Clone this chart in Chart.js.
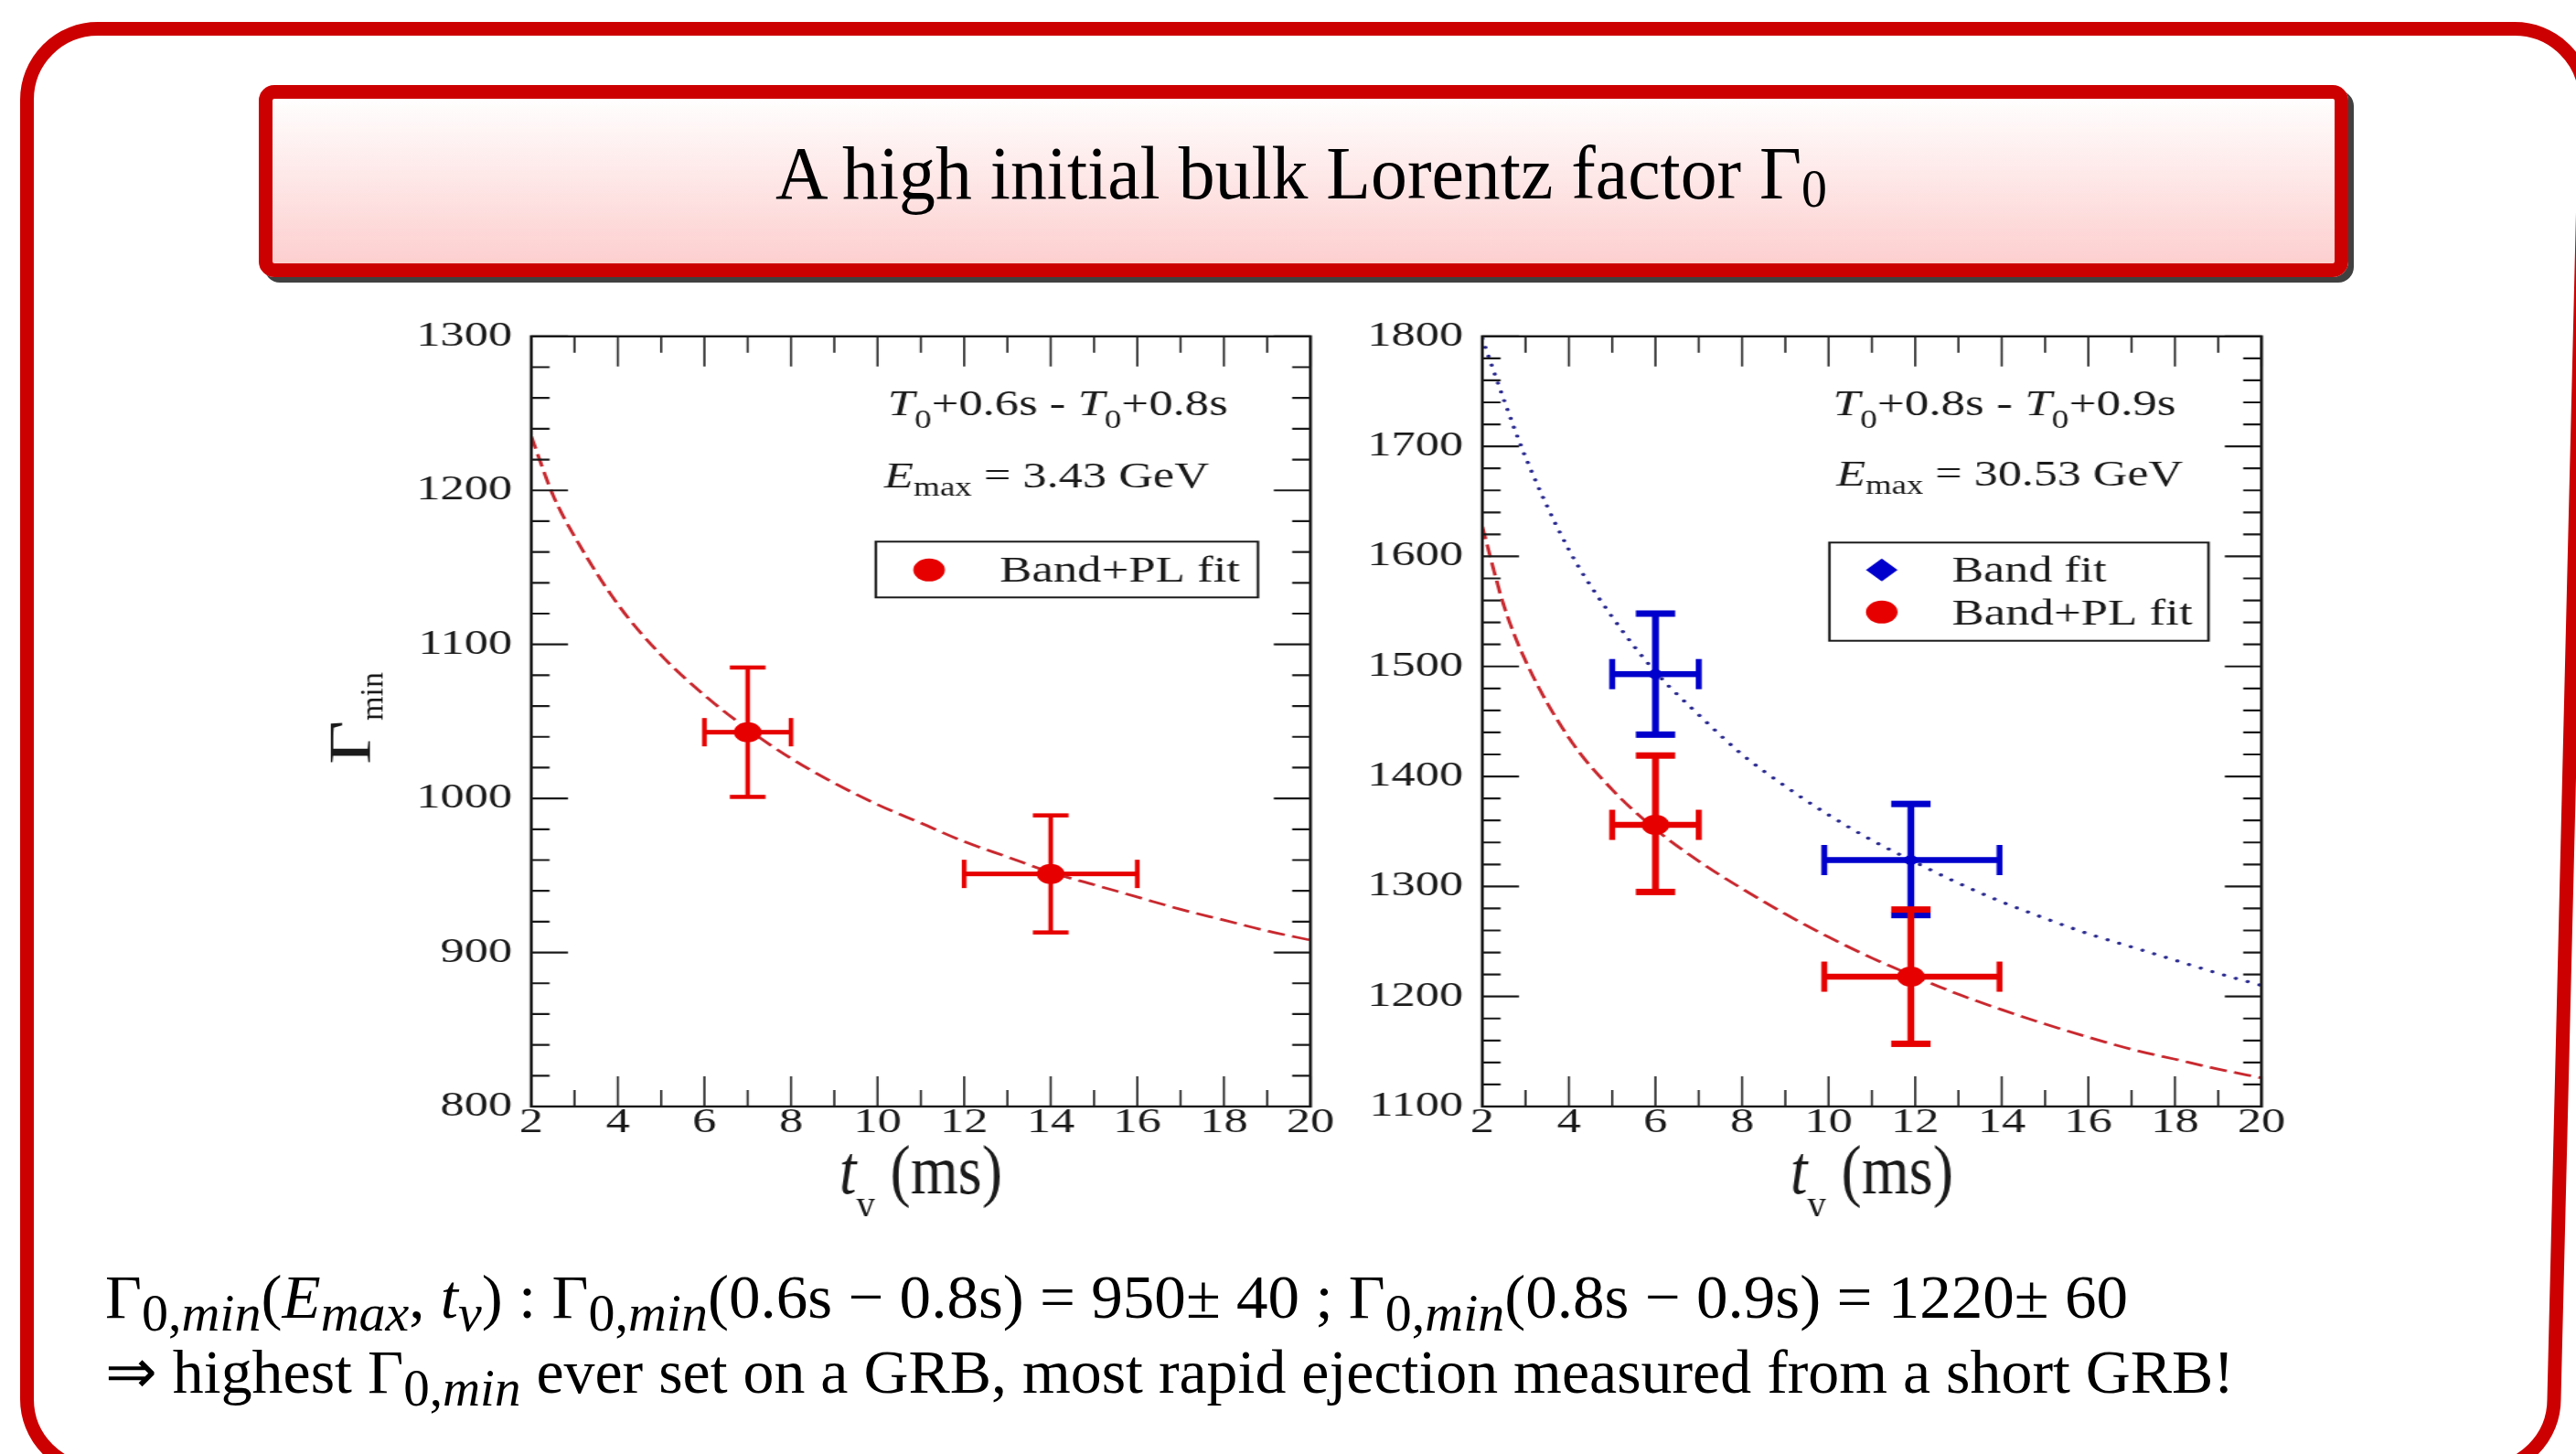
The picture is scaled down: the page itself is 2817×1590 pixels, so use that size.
<!DOCTYPE html>
<html>
<head>
<meta charset="utf-8">
<title>A high initial bulk Lorentz factor Γ0</title>
<script src="https://cdn.jsdelivr.net/npm/chart.js@4.4.1/dist/chart.umd.min.js"></script>
<style>
  html, body { margin:0; padding:0; background:#fff; }
  body { width:2817px; height:1590px; position:relative; overflow:hidden; font-family:"Liberation Serif", serif; color:#000; }
  #frame { position:absolute; left:0; top:0; }
  #titlebox { position:absolute; left:283px; top:93px; width:2285px; height:210px; box-sizing:border-box; border:15px solid #cc0000; border-radius:17px; background:linear-gradient(to bottom,#fffefe 0%,#fdcfcf 100%); box-shadow:6px 6px 0 #404040; }
  .fit { position:absolute; white-space:nowrap; line-height:1; transform-origin:0 0; }
  #title { top:148px; font-size:83px; }
  #title sub { font-size:0.7em; vertical-align:-0.15em; line-height:0; }
  .mline { left:115px; font-size:68px; }
  .mline sub { font-size:0.84em; vertical-align:-0.25em; line-height:0; }
  #l1 { top:1384px; }
  #l2 { top:1466px; }
  .panel { position:absolute; top:330px; width:800px; height:1000px; transform-origin:0 0; transform:scaleX(1.38); }
  .panel canvas { display:block; }
</style>
</head>
<body>
<svg id="frame" width="2817" height="1590" viewBox="0 0 2817 1590">
  <path d="M 29.5 1530 L 29.5 109 A 77.5 77.5 0 0 1 107 31.5 L 2750 31.5 A 77.5 77.5 0 0 1 2827.5 109 L 2793 1530 A 77.5 77.5 0 0 1 2715.5 1607.5 L 107 1607.5 A 77.5 77.5 0 0 1 29.5 1530 Z" fill="none" stroke="#cc0000" stroke-width="15"/>
</svg>
<div id="titlebox"></div>
<div id="title" class="fit" data-w="1150" data-cx="1423">A high initial bulk Lorentz factor Γ<sub>0</sub></div>

<div class="panel" style="left:359px;"><canvas id="cLeft" width="800" height="1000"></canvas></div>
<div class="panel" style="left:1398.5px;"><canvas id="cRight" width="800" height="1000"></canvas></div>

<div id="l1" class="fit mline" data-w="2212">Γ<sub>0,<i>min</i></sub>(<i>E<sub>max</sub></i>, <i>t<sub>v</sub></i>) : Γ<sub>0,<i>min</i></sub>(0.6s − 0.8s) = 950± 40 ; Γ<sub>0,<i>min</i></sub>(0.8s − 0.9s) = 1220± 60</div>
<div id="l2" class="fit mline" data-w="2328">⇒ highest Γ<sub>0,<i>min</i></sub> ever set on a GRB, most rapid ejection measured from a short GRB!</div>

<script>
// ---------------- data ----------------
const tickX = [2, 4, 6, 8, 10, 12, 14, 16, 18, 20];
const tickYLeft = [800, 900, 1000, 1100, 1200, 1300];
const tickYRight = [1100, 1200, 1300, 1400, 1500, 1600, 1700, 1800];

const curveX = [2, 2.5, 3, 4, 5, 6, 7, 8, 9, 10, 11, 12, 13, 14, 15, 16, 17, 18, 19, 20];
const leftFitY = [1235, 1197, 1170, 1126, 1093, 1067, 1045, 1026, 1010, 996, 984, 972, 962, 952, 944, 936, 928, 921, 914, 908];
const rightBandFitY = [1798, 1742, 1690, 1606, 1545, 1495, 1456, 1420, 1391, 1365, 1342, 1322, 1303, 1286, 1271, 1257, 1245, 1233, 1221, 1210];
const rightPLFitY = [1627, 1555, 1505, 1435, 1388, 1352, 1323, 1298, 1275, 1254, 1235, 1218, 1202, 1188, 1175, 1163, 1152, 1143, 1134, 1126];

const leftPLx = [7, 14];
const leftPLy = [1043, 951];
const leftPLxLo = [6, 12];
const leftPLxHi = [8, 16];
const leftPLyLo = [1001, 913];
const leftPLyHi = [1085, 989];

const rightBandx = [6, 11.9];
const rightBandy = [1493, 1324];
const rightBandxLo = [5, 9.9];
const rightBandxHi = [7, 13.95];
const rightBandyLo = [1438, 1274];
const rightBandyHi = [1548, 1375];

const rightPLx = [6, 11.9];
const rightPLy = [1356, 1218];
const rightPLxLo = [5, 9.9];
const rightPLxHi = [7, 13.95];
const rightPLyLo = [1295, 1157];
const rightPLyHi = [1419, 1279];

// ---------------- layout ----------------
const S = 1.38;             // horizontal stretch of the embedded figures
const CW = 800, CH = 1000;  // local canvas size
const TOP0 = 330;
const AREA = { left: 160.87, right: 778.26, top: 30, bottom: 880 };
const FONT = '"Liberation Serif", "Times New Roman", serif';
const INK = '#1a1a1a';
const RED = '#e60000';
const BLUE = '#0000cc';

document.querySelectorAll('.fit').forEach(el => {
  const w = el.getBoundingClientRect().width;
  const tw = +el.dataset.w;
  el.style.transform = 'scaleX(' + (tw / w) + ')';
  if (el.dataset.cx) el.style.left = (+el.dataset.cx - tw / 2) + 'px';
});

function pts(xs, ys) { return xs.map((x, i) => ({ x: x, y: ys[i] })); }

// ---------------- plugins ----------------
const errorBars = {
  id: 'errorBars',
  beforeDatasetsDraw(chart) {
    const { ctx, scales: { x, y } } = chart;
    chart.data.datasets.forEach(ds => {
      const e = ds.err;
      if (!e) return;
      ctx.save();
      ctx.fillStyle = ds.backgroundColor;
      ds.data.forEach((p, i) => {
        const px = x.getPixelForValue(p.x), py = y.getPixelForValue(p.y);
        const xl = x.getPixelForValue(e.xLo[i]), xh = x.getPixelForValue(e.xHi[i]);
        const yl = y.getPixelForValue(e.yLo[i]), yh = y.getPixelForValue(e.yHi[i]);
        const st = e.style;
        const vw = st.vLine / S;
        ctx.fillRect(px - vw / 2, yh, vw, yl - yh);
        ctx.fillRect(xl, py - st.hLine / 2, xh - xl, st.hLine);
        const cw = st.capW / S / 2;
        ctx.fillRect(px - cw, yh - st.capT / 2, 2 * cw, st.capT);
        ctx.fillRect(px - cw, yl - st.capT / 2, 2 * cw, st.capT);
        const cv = st.capV / S;
        ctx.fillRect(xl - cv / 2, py - st.capH / 2, cv, st.capH);
        ctx.fillRect(xh - cv / 2, py - st.capH / 2, cv, st.capH);
      });
      ctx.restore();
    });
  }
};

const frameTicks = {
  id: 'frameTicks',
  afterDatasetsDraw(chart, args, o) {
    const { ctx, chartArea: a, scales: { x, y } } = chart;
    ctx.save();
    ctx.strokeStyle = INK;
    ctx.lineWidth = 1.6;
    ctx.beginPath();
    for (let v = x.min; v <= x.max + 1e-9; v += o.xMinorStep) {
      const major = tickX.indexOf(v) >= 0;
      const len = major ? 33 : 18;
      const px = x.getPixelForValue(v);
      ctx.moveTo(px, a.bottom); ctx.lineTo(px, a.bottom - len);
      ctx.moveTo(px, a.top); ctx.lineTo(px, a.top + len);
    }
    ctx.stroke();
    ctx.lineWidth = 2.2;
    ctx.beginPath();
    for (let v = y.min; v <= y.max + 1e-9; v += o.yMinorStep) {
      const major = o.yMajor.indexOf(v) >= 0;
      const len = (major ? 40 : 20) / S;
      const py = y.getPixelForValue(v);
      ctx.moveTo(a.left, py); ctx.lineTo(a.left + len, py);
      ctx.moveTo(a.right, py); ctx.lineTo(a.right - len, py);
    }
    ctx.stroke();
    ctx.lineWidth = 2.4;
    ctx.strokeRect(a.left, a.top, a.right - a.left, a.bottom - a.top);
    ctx.restore();
  }
};

function richWidth(ctx, parts) {
  let w = 0;
  parts.forEach(p => {
    ctx.font = (p.it ? 'italic ' : '') + p.size + 'px ' + FONT;
    w += ctx.measureText(p.t).width * (p.sx || 1);
  });
  return w;
}
function drawParts(ctx, parts) {
  let cx = 0;
  parts.forEach(p => {
    ctx.font = (p.it ? 'italic ' : '') + p.size + 'px ' + FONT;
    const sx = p.sx || 1;
    ctx.save();
    ctx.translate(cx, 0);
    ctx.scale(sx, 1);
    ctx.fillText(p.t, 0, p.dy || 0);
    ctx.restore();
    cx += ctx.measureText(p.t).width * sx;
  });
}

const annot = {
  id: 'annot',
  afterDraw(chart, args, o) {
    const { ctx, chartArea: a } = chart;
    ctx.save();
    ctx.fillStyle = INK;
    ctx.textBaseline = 'alphabetic';
    ctx.textAlign = 'left';
    o.texts.forEach(t => {
      const k = t.w / (richWidth(ctx, t.parts) * S);
      ctx.save();
      ctx.translate(t.x, t.y);
      ctx.scale(k, 1);
      drawParts(ctx, t.parts);
      ctx.restore();
    });
    const L = o.legend;
    ctx.lineWidth = 2;
    ctx.strokeStyle = INK;
    ctx.strokeRect(L.box[0], L.box[1], L.box[2] - L.box[0], L.box[3] - L.box[1]);
    L.items.forEach(it => {
      const ds = chart.data.datasets[it.ds];
      ctx.fillStyle = ds.backgroundColor;
      Chart.helpers.drawPoint(ctx, { pointStyle: ds.pointStyle, radius: it.r, rotation: 0, borderWidth: 0 }, it.mx, it.my);
      ctx.fillStyle = INK;
      const parts = [{ t: ds.label, size: 39 }];
      const k = it.w / (richWidth(ctx, parts) * S);
      ctx.save();
      ctx.translate(it.tx, it.ty);
      ctx.scale(k, 1);
      drawParts(ctx, parts);
      ctx.restore();
    });
    const xt = o.xTitle;
    const kx = xt.w / richWidth(ctx, xt.parts);
    ctx.save();
    ctx.translate((a.left + a.right) / 2, xt.y);
    ctx.scale(1 / S, 1);
    ctx.translate(-xt.w / 2, 0);
    ctx.scale(kx, 1);
    drawParts(ctx, xt.parts);
    ctx.restore();
    if (o.yTitle) {
      const yt = o.yTitle;
      ctx.save();
      ctx.translate(yt.x, yt.y);
      ctx.scale(1 / S, 1);
      ctx.rotate(-Math.PI / 2);
      drawParts(ctx, yt.parts);
      ctx.restore();
    }
    ctx.restore();
  }
};

// ---------------- chart factory ----------------
function makeChart(id, datasets, yMin, yMax, yTicks, annotOpts) {
  const tickFont = { family: FONT, size: 38 };
  return new Chart(document.getElementById(id), {
    type: 'scatter',
    data: { datasets: datasets },
    options: {
      responsive: false,
      maintainAspectRatio: false,
      animation: false,
      events: [],
      layout: { padding: { left: 0, right: CW - AREA.right, top: AREA.top, bottom: 0 } },
      scales: {
        x: {
          type: 'linear', min: 2, max: 20,
          afterBuildTicks: s => { s.ticks = tickX.map(v => ({ value: v })); },
          afterFit: s => { s.height = CH - AREA.bottom; },
          ticks: { font: tickFont, color: INK, padding: -5, maxRotation: 0, autoSkip: false, callback: v => String(v) },
          grid: { display: false, drawTicks: false },
          border: { display: false }
        },
        y: {
          type: 'linear', min: yMin, max: yMax,
          afterBuildTicks: s => { s.ticks = yTicks.map(v => ({ value: v })); },
          afterFit: s => { s.width = AREA.left; },
          ticks: { font: tickFont, color: INK, padding: 15, autoSkip: false, callback: v => String(v) },
          grid: { display: false, drawTicks: false },
          border: { display: false }
        }
      },
      plugins: {
        legend: { display: false },
        tooltip: { enabled: false },
        frameTicks: { xMinorStep: 1, yMinorStep: 20, yMajor: yTicks },
        annot: annotOpts
      }
    },
    plugins: [errorBars, frameTicks, annot]
  });
}

const errLeft = { vLine: 5, hLine: 5, capW: 39, capT: 4.5, capH: 31, capV: 5 };
const errRight = { vLine: 7.5, hLine: 6.5, capW: 43, capT: 7, capH: 33, capV: 6.5 };
const xTitleParts = [{ t: 't', it: 1, size: 76 }, { t: 'v', size: 46, dy: 27 }, { t: ' (ms)', size: 76 }];

// ---------------- left panel ----------------
makeChart('cLeft', [
  {
    label: 'Band+PL fit (curve)', data: pts(curveX, leftFitY), showLine: true,
    borderColor: '#c8282e', borderWidth: 2.8, borderDash: [14, 6], pointRadius: 0,
    cubicInterpolationMode: 'monotone', fill: false, order: 2
  },
  {
    label: 'Band+PL fit', data: pts(leftPLx, leftPLy), showLine: false,
    pointStyle: 'circle', pointRadius: 11, backgroundColor: RED, borderWidth: 0, order: 1,
    err: { xLo: leftPLxLo, xHi: leftPLxHi, yLo: leftPLyLo, yHi: leftPLyHi, style: errLeft }
  }
], 800, 1300, tickYLeft, {
  texts: [
    { x: (970.6 - 359) / S, y: 454 - TOP0, w: 372, parts: [
      { t: 'T', it: 1, size: 41 }, { t: '0', size: 29, dy: 14 }, { t: '+0.6s - ', size: 41 },
      { t: 'T', it: 1, size: 41 }, { t: '0', size: 29, dy: 14 }, { t: '+0.8s', size: 41 }] },
    { x: (967 - 359) / S, y: 533 - TOP0, w: 355, parts: [
      { t: 'E', it: 1, size: 41 }, { t: 'max', size: 29, dy: 9 }, { t: ' = 3.43 GeV', size: 41 }] }
  ],
  legend: {
    box: [(957.7 - 359) / S, 592.3 - TOP0, (1375.6 - 359) / S, 653.3 - TOP0],
    items: [{ ds: 1, r: 12.5, mx: (1016 - 359) / S, my: 623.3 - TOP0, tx: (1093 - 359) / S, ty: 636 - TOP0, w: 263 }]
  },
  xTitle: { y: 1305 - TOP0, w: 178, parts: xTitleParts },
  yTitle: { x: (405 - 359) / S, y: 836 - TOP0, parts: [{ t: 'Γ', size: 64, sx: 1.3 }, { t: 'min', size: 34, dy: 13 }] }
});

// ---------------- right panel ----------------
makeChart('cRight', [
  {
    label: 'Band fit (curve)', data: pts(curveX, rightBandFitY), showLine: true,
    borderColor: '#2a2a90', borderWidth: 3.4, borderDash: [0.01, 10], borderCapStyle: 'round', pointRadius: 0,
    cubicInterpolationMode: 'monotone', fill: false, order: 3
  },
  {
    label: 'Band+PL fit (curve)', data: pts(curveX, rightPLFitY), showLine: true,
    borderColor: '#c8282e', borderWidth: 2.8, borderDash: [14, 6], pointRadius: 0,
    cubicInterpolationMode: 'monotone', fill: false, order: 3
  },
  {
    label: 'Band fit', data: pts(rightBandx, rightBandy), showLine: false,
    pointStyle: 'rectRot', pointRadius: 7.5, backgroundColor: BLUE, borderWidth: 0, order: 2,
    err: { xLo: rightBandxLo, xHi: rightBandxHi, yLo: rightBandyLo, yHi: rightBandyHi, style: errRight }
  },
  {
    label: 'Band+PL fit', data: pts(rightPLx, rightPLy), showLine: false,
    pointStyle: 'circle', pointRadius: 11, backgroundColor: RED, borderWidth: 0, order: 1,
    err: { xLo: rightPLxLo, xHi: rightPLxHi, yLo: rightPLyLo, yHi: rightPLyHi, style: errRight }
  }
], 1100, 1800, tickYRight, {
  texts: [
    { x: (2004 - 1398.5) / S, y: 454 - TOP0, w: 375, parts: [
      { t: 'T', it: 1, size: 41 }, { t: '0', size: 29, dy: 14 }, { t: '+0.8s - ', size: 41 },
      { t: 'T', it: 1, size: 41 }, { t: '0', size: 29, dy: 14 }, { t: '+0.9s', size: 41 }] },
    { x: (2007.7 - 1398.5) / S, y: 531 - TOP0, w: 379, parts: [
      { t: 'E', it: 1, size: 41 }, { t: 'max', size: 29, dy: 9 }, { t: ' = 30.53 GeV', size: 41 }] }
  ],
  legend: {
    box: [(2000 - 1398.5) / S, 593.3 - TOP0, (2414.6 - 1398.5) / S, 700.7 - TOP0],
    items: [
      { ds: 2, r: 12.5, mx: (2057.3 - 1398.5) / S, my: 623.3 - TOP0, tx: (2134 - 1398.5) / S, ty: 636 - TOP0, w: 169 },
      { ds: 3, r: 12.5, mx: (2057.3 - 1398.5) / S, my: 669.3 - TOP0, tx: (2134 - 1398.5) / S, ty: 683 - TOP0, w: 263 }
    ]
  },
  xTitle: { y: 1305 - TOP0, w: 178, parts: xTitleParts }
});
</script>
</body>
</html>
